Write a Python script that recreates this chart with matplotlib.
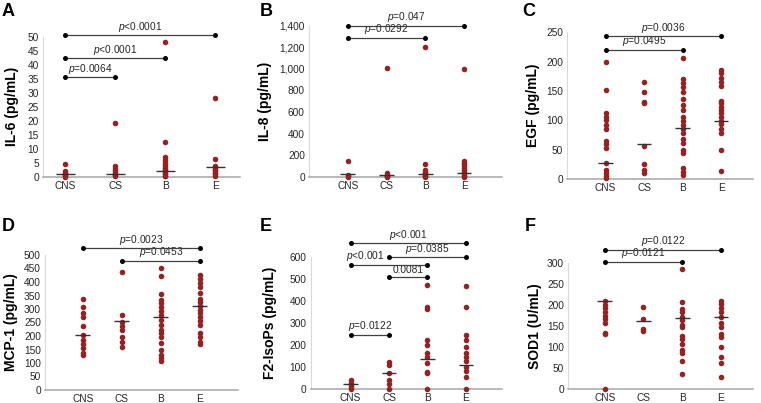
import matplotlib.pyplot as plt
from matplotlib.ticker import FuncFormatter, MultipleLocator

plt.rcParams['font.family'] = ['Liberation Sans', 'DejaVu Sans']
plt.rcParams['mathtext.fontset'] = 'custom'
plt.rcParams['mathtext.it'] = 'Liberation Sans:italic'
plt.rcParams['mathtext.rm'] = 'Liberation Sans'

groups = ['CNS', 'CS', 'B', 'E']

# values per group: CNS, CS, B, E
il6 = [[4.5, 2.0, 1.6, 1.2, 1.0, 0.7, 0.4, 0.1],
       [19.3, 4.0, 3.0, 2.2, 1.6, 1.2, 0.8, 0.4],
       [48, 12.5, 7.0, 6.0, 5.0, 4.2, 3.5, 3.0, 2.5, 2.0, 1.5, 1.0, 0.5, 0.2],
       [28, 6.5, 4.0, 3.5, 3.0, 2.5, 2.0, 1.5, 1.0, 0.5]]
il6_med = [1.0, 1.2, 2.0, 3.7]
il6_p = [(0, 1, 35.5, '$p$=0.0064', None),
         (0, 2, 42.3, '$p$<0.0001', None),
         (0, 3, 50.5, '$p$<0.0001', None)]

il8 = [[145, 15, 5, 0],
       [1010, 30, 20, 10, 5, 0],
       [1205, 117, 60, 45, 30, 20, 10, 5, 0],
       [995, 145, 130, 115, 100, 80, 60, 45, 30, 15, 5, 0]]
il8_med = [22, 20, 25, 31]
il8_p = [(0, 2, 1290, '$p$=0.0292', None),
         (0, 3, 1400, '$p$=0.047', None)]

egf = [[199, 152, 112, 106, 100, 92, 85, 64, 59, 52, 27, 15, 10, 5, 2],
       [165, 149, 132, 129, 57, 26, 15, 11],
       [206, 170, 163, 156, 149, 136, 126, 118, 106, 99, 92, 86, 78, 69, 61,
        49, 44, 18, 12, 7],
       [186, 180, 172, 166, 158, 133, 129, 123, 118, 112, 106, 99, 94, 86, 78,
        49, 14]]
egf_med = [28, 60, 87, 98]
egf_p = [(0, 2, 220, '$p$=0.0495', None),
         (0, 3, 243, '$p$=0.0036', None)]

mcp1 = [[336, 309, 284, 272, 237, 204, 185, 170, 154, 138, 130],
        [438, 278, 253, 237, 222, 198, 179, 160],
        [451, 422, 354, 333, 321, 306, 294, 278, 259, 241, 222, 210, 198, 173,
         148, 130, 117, 109],
        [426, 410, 395, 380, 360, 336, 327, 311, 296, 284, 269, 257, 241, 210,
         198, 179, 170]]
mcp1_med = [205, 254, 270, 312]
mcp1_p = [(1, 3, 479, '$p$=0.0453', None),
          (0, 3, 525, '$p$=0.0023', None)]

f2 = [[42, 30, 20, 9, 0],
      [126, 111, 73, 42, 23, 0],
      [474, 376, 364, 224, 202, 164, 148, 118, 80, 73, 0],
      [471, 376, 247, 224, 194, 164, 148, 129, 103, 85, 58, 0]]
f2_med = [23, 73, 138, 111]
f2_p = [(0, 1, 247, '$p$=0.0122', None),
        (1, 2, 512, '0.0081', None),
        (0, 2, 565, '$p$<0.001', 0.39),
        (1, 3, 600, '$p$=0.0385', None),
        (0, 3, 663, '$p$<0.001', None)]

sod1 = [[209, 200, 192, 184, 174, 166, 158, 134, 130, 0],
        [194, 167, 142, 137],
        [284, 206, 189, 182, 172, 163, 152, 147, 126, 118, 107, 93, 85, 66, 36],
        [210, 202, 192, 184, 172, 158, 148, 131, 123, 99, 76, 62, 28]]
sod1_med = [210, 162, 168, 172]
sod1_p = [(0, 2, 302, '$p$=0.0121', None),
          (0, 3, 330, '$p$=0.0122', None)]

W, H = 761, 403
dot = '#962123'

# letter, ylabel, data, medians, brackets, ymax, ystep,
# axes px (left, width, bottom, height), xlim, ylabel x, letter x/y
panels = [
    ('A', 'IL-6 (pg/mL)', il6, il6_med, il6_p, 50, 5,
     (43, 197, 177, 140.3), (-0.45, 3.5), 12, (2, 3)),
    ('B', 'IL-8 (pg/mL)', il8, il8_med, il8_p, 1400, 200,
     (309, 193, 176.7, 151), (-1.0, 3.98), 265, (260, 3)),
    ('C', 'EGF (pg/mL)', egf, egf_med, egf_p, 250, 50,
     (567, 186, 179, 146.7), (-1.0, 3.83), 533, (522, 3)),
    ('D', 'MCP-1 (pg/mL)', mcp1, mcp1_med, mcp1_p, 500, 50,
     (45, 193, 390, 135), (-0.97, 3.98), 11, (2, 218)),
    ('E', 'F2-IsoPs (pg/mL)', f2, f2_med, f2_p, 600, 100,
     (310.7, 191.3, 389.3, 132), (-1.04, 3.94), 270, (260, 218)),
    ('F', 'SOD1 (U/mL)', sod1, sod1_med, sod1_p, 300, 50,
     (568, 185, 389.3, 126.7), (-0.95, 3.83), 535, (525, 218)),
]

fig = plt.figure(figsize=(W / 100, H / 100), dpi=100)

for letter, ylab, data, meds, brackets, ymax, ystep, rect, xl, ylx, lpos in panels:
    l, w, b, h = rect
    ax = fig.add_axes([l / W, 1 - b / H, w / W, h / H])
    for i, vals in enumerate(data):
        ax.scatter([i] * len(vals), vals, s=16, color=dot, zorder=3,
                   clip_on=False, linewidths=0)
        ax.hlines(meds[i], i - 0.19, i + 0.19, color='#333333', lw=1, zorder=4)
    for a, c, y, txt, tx in brackets:
        ax.plot([a, c], [y, y], color='#404040', lw=0.9, clip_on=False, zorder=5)
        ax.scatter([a, c], [y, y], s=13, color='black', clip_on=False,
                   zorder=6, linewidths=0)
        xm = (a + c) / 2 if tx is None else tx
        ax.annotate(txt, (xm, y), xytext=(0, 1.2), textcoords='offset points',
                    ha='center', va='bottom', fontsize=7.3, color='#262626',
                    annotation_clip=False)
    ax.set_xlim(*xl)
    ax.set_ylim(0, ymax)
    ax.set_xticks(range(4))
    ax.set_xticklabels(groups)
    ax.yaxis.set_major_locator(MultipleLocator(ystep))
    if ymax >= 1000:
        ax.yaxis.set_major_formatter(FuncFormatter(lambda v, p: f'{v:,.0f}'))
    ax.tick_params(length=0, labelsize=7.3, colors='#262626', pad=3)
    for s in ['top', 'right']:
        ax.spines[s].set_visible(False)
    ax.spines['bottom'].set_color('#a6a6a6')
    ax.spines['bottom'].set_linewidth(1.1)
    ax.spines['left'].set_color('#d9d9d9')
    ax.spines['left'].set_linewidth(0.8)
    fig.text(ylx / W, 1 - (b - h / 2) / H, ylab, rotation=90, ha='center',
             va='center', fontsize=10, fontweight='bold')
    fig.text(lpos[0] / W, 1 - lpos[1] / H, letter, ha='left', va='top',
             fontsize=13, fontweight='bold')

fig.savefig('out.png', dpi=100)
